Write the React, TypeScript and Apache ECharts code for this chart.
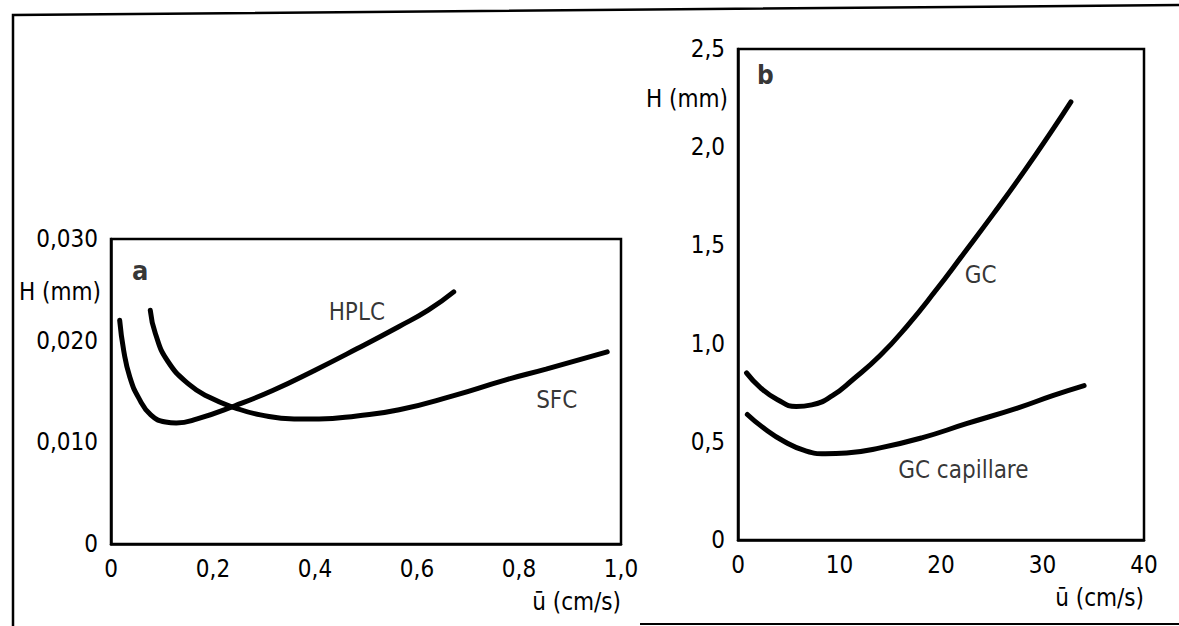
import React, { useEffect, useRef } from "react";
import * as echarts from "echarts";

// Panel a: H (mm) vs mean velocity (cm/s)
const hplcU = [0.017, 0.025, 0.037, 0.054, 0.078, 0.107, 0.128, 0.169, 0.243, 0.317, 0.4, 0.482, 0.565, 0.622, 0.672];
const hplcH = [0.022, 0.019, 0.0164, 0.0144, 0.0127, 0.012, 0.0119, 0.0123, 0.0136, 0.0151, 0.0171, 0.0192, 0.0214, 0.023, 0.0248];

const sfcU = [0.077, 0.087, 0.111, 0.153, 0.194, 0.243, 0.293, 0.359, 0.408, 0.482, 0.565, 0.672, 0.771, 0.853, 0.973];
const sfcH = [0.023, 0.0207, 0.018, 0.0157, 0.0144, 0.0134, 0.0127, 0.0123, 0.0123, 0.0126, 0.0132, 0.0146, 0.0161, 0.0172, 0.0189];

// Panel b
const gcU = [0.84, 2.2, 3.9, 5.74, 7.26, 9.3, 11.3, 14.0, 16.7, 19.4, 22.1, 25.2, 28.2, 30.9, 32.8];
const gcH = [0.851, 0.776, 0.714, 0.68, 0.688, 0.735, 0.816, 0.939, 1.092, 1.265, 1.449, 1.663, 1.878, 2.082, 2.231];

const capU = [0.92, 2.5, 4.6, 6.6, 8.6, 10.7, 14.0, 18.1, 22.5, 27.6, 31.0, 34.1];
const capH = [0.639, 0.571, 0.5, 0.455, 0.439, 0.443, 0.469, 0.52, 0.592, 0.673, 0.735, 0.786];

// Curve labels [u, H, text]
const labelsA: [number, number, string][] = [
  [0.482, 0.0228, "HPLC"],
  [0.874, 0.0142, "SFC"],
];
const labelsB: [number, number, string][] = [
  [23.9, 1.347, "GC"],
  [22.2, 0.357, "GC capillare"],
];
const panelTagA: [number, number, string] = [0.057, 0.0269, "a"];
const panelTagB: [number, number, string] = [2.7, 2.37, "b"];

const xTicksA = { min: 0, max: 1.0, interval: 0.2, decimals: 1 };
const yTicksA = { min: 0, max: 0.03, interval: 0.01, decimals: 3 };
const xTicksB = { min: 0, max: 40, interval: 10, decimals: 0 };
const yTicksB = { min: 0, max: 2.5, interval: 0.5, decimals: 1 };

const xName = "ū (cm/s)";
const yName = "H (mm)";

const FONT = "'Liberation Sans Narrow', 'Arial Narrow', 'DejaVu Sans Condensed', sans-serif";
const INK = "#000000";

const fmt = (d: number) => (v: number) =>
  Math.abs(v) < 1e-12 ? "0" : v.toFixed(d).replace(".", ",");

const zip = (a: number[], b: number[]) => a.map((v, i) => [v, b[i]]);

export default function App() {
  const ref = useRef<HTMLDivElement>(null);
  useEffect(() => {
    if (!ref.current) return;
    const chart = echarts.init(ref.current, undefined, { renderer: "svg" });

    const xAxis = (t: any, gi: number) => ({
      type: "value",
      gridIndex: gi,
      min: t.min,
      max: t.max,
      interval: t.interval,
      axisLine: { show: true, onZero: false, lineStyle: { color: INK, width: 2.5 } },
      axisTick: { show: false },
      splitLine: { show: false },
      axisLabel: {
        formatter: fmt(t.decimals),
        color: INK,
        fontFamily: FONT,
        fontSize: 24,
        margin: 13,
      },
      name: xName,
      nameLocation: "end",
      nameGap: 0,
      nameTextStyle: {
        color: INK,
        fontFamily: FONT,
        fontSize: 24,
        align: "right",
        verticalAlign: "top",
        padding: [46, 0, 0, 0],
      },
    });

    const yAxis = (t: any, gi: number, gap: number) => ({
      type: "value",
      gridIndex: gi,
      min: t.min,
      max: t.max,
      interval: t.interval,
      axisLine: { show: true, onZero: false, lineStyle: { color: INK, width: 2.5 } },
      axisTick: { show: false },
      splitLine: { show: false },
      axisLabel: {
        formatter: fmt(t.decimals),
        color: INK,
        fontFamily: FONT,
        fontSize: 24,
        margin: 13,
      },
      name: yName,
      nameLocation: "end",
      nameGap: gap,
      nameTextStyle: {
        color: INK,
        fontFamily: FONT,
        fontSize: 24,
        align: "right",
        verticalAlign: "middle",
        padding: [0, 10, 0, 0],
      },
    });

    const curve = (name: string, data: number[][], gi: number) => ({
      name,
      type: "line",
      xAxisIndex: gi,
      yAxisIndex: gi,
      data,
      smooth: 0.5,
      showSymbol: false,
      symbol: "none",
      silent: true,
      lineStyle: { color: INK, width: 5, cap: "round" },
    });

    const textSeries = (data: [number, number, string][], gi: number, bold: boolean, size: number) => ({
      type: "scatter",
      xAxisIndex: gi,
      yAxisIndex: gi,
      data,
      symbolSize: 0,
      silent: true,
      label: {
        show: true,
        position: "inside",
        formatter: (p: any) => p.data[2],
        color: INK,
        fontFamily: FONT,
        fontSize: size,
        fontWeight: bold ? "bold" : "normal",
      },
    });

    chart.setOption({
      animation: false,
      backgroundColor: "#ffffff",
      grid: [
        { left: 111, top: 239, width: 510, height: 305, show: true, borderColor: INK, borderWidth: 2.5, backgroundColor: "transparent" },
        { left: 738, top: 49, width: 406, height: 491, show: true, borderColor: INK, borderWidth: 2.5, backgroundColor: "transparent" },
      ],
      xAxis: [xAxis(xTicksA, 0), xAxis(xTicksB, 1)],
      yAxis: [yAxis(yTicksA, 0, -53), yAxis(yTicksB, 1, -50)],
      series: [
        curve("HPLC", zip(hplcU, hplcH), 0),
        curve("SFC", zip(sfcU, sfcH), 0),
        curve("GC", zip(gcU, gcH), 1),
        curve("GC capillare", zip(capU, capH), 1),
        textSeries(labelsA, 0, false, 24),
        textSeries(labelsB, 1, false, 24),
        textSeries([panelTagA], 0, true, 27),
        textSeries([panelTagB], 1, true, 26),
      ],
      graphic: [
        {
          type: "polyline",
          shape: { points: [[13, 626], [13, 15], [1179, 5]] },
          style: { stroke: INK, lineWidth: 2.5, fill: "none" },
          silent: true,
        },
        {
          type: "line",
          shape: { x1: 640, y1: 624, x2: 1179, y2: 624 },
          style: { stroke: INK, lineWidth: 2 },
          silent: true,
        },
      ],
    });

    return () => chart.dispose();
  }, []);

  return (
    <div
      ref={ref}
      style={{ position: "fixed", left: 0, top: 0, width: 1179, height: 626, background: "#fff" }}
    />
  );
}
